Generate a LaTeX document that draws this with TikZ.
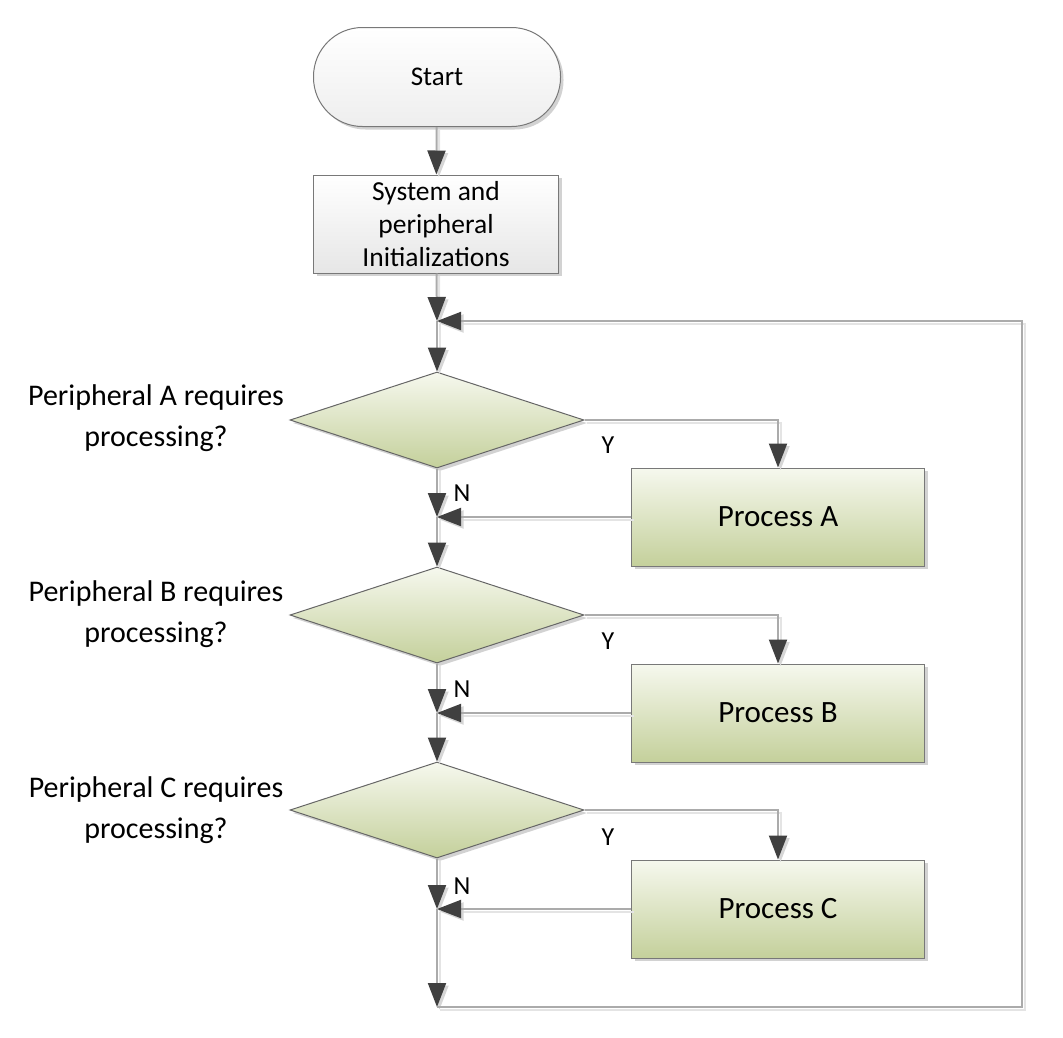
\documentclass[tikz,border=0pt]{standalone}
\usepackage{fontspec}
\setmainfont{Carlito}
\usetikzlibrary{arrows.meta,shapes.geometric,shadows}

\definecolor{linegray}{HTML}{ABABAB}
\definecolor{lineshade}{HTML}{E4E4E4}
\definecolor{tipgray}{HTML}{404040}
\definecolor{tipshade}{HTML}{D6D6D6}
\definecolor{edgegray}{HTML}{787878}
\definecolor{greentop}{HTML}{F6F8EE}
\definecolor{greenbot}{HTML}{C4D09B}
\definecolor{graybot}{HTML}{E6E6E6}
\definecolor{startbot}{HTML}{EEEEEE}

\begin{document}
\begin{tikzpicture}[x=1pt,y=-1pt,
  font=\fontsize{27}{33}\selectfont,
  boxshadow/.style={drop shadow={shadow xshift=3pt,shadow yshift=-3pt,fill=black!35,opacity=0.5}},
  terminal/.style={draw=edgegray,line width=1pt,rounded corners=49pt,
    minimum width=247pt,minimum height=99pt,top color=white,bottom color=startbot,boxshadow},
  initbox/.style={draw=edgegray,line width=1pt,minimum width=245pt,minimum height=98pt,
    align=center,top color=white,bottom color=graybot,boxshadow,
    font=\fontsize{27.5}{33}\selectfont},
  decision/.style={diamond,draw=black!60,line width=1pt,minimum width=294pt,minimum height=96pt,
    inner sep=0pt,top color=greentop,bottom color=greenbot,boxshadow},
  procbox/.style={draw=edgegray,line width=1pt,minimum width=293pt,minimum height=98pt,
    top color=greentop,bottom color=greenbot,boxshadow,font=\fontsize{31}{36}\selectfont},
  question/.style={align=center,font=\fontsize{30}{41}\selectfont},
  tag/.style={font=\fontsize{26}{30}\selectfont},
  tipA/.style={-{Triangle[length=24pt,width=18pt,color=tipgray]}},
  flow/.style={draw=linegray,line width=2pt,tipA,
    preaction={draw=lineshade,line width=2pt,
      arrows=-{Triangle[length=24pt,width=18pt,color=tipshade]},
      transform canvas={shift={(2.5pt,-2.5pt)}}}},
]
\useasboundingbox (0,0) rectangle (1063,1037);

% nodes
\node[terminal] (start) at (437,77) {Start};
\node[initbox] (init) at (436,224) {System and\\peripheral\\Initializations};

\node[decision] (dA) at (437,420) {};
\node[decision] (dB) at (437,615) {};
\node[decision] (dC) at (437,810) {};

\node[procbox] (pA) at (778,517) {Process A};
\node[procbox] (pB) at (778,713) {Process B};
\node[procbox] (pC) at (778,909) {Process C};

\node[question] (qA) at (156,418) {Peripheral A requires\\processing?};
\node[question] (qB) at (156,614) {Peripheral B requires\\processing?};
\node[question] (qC) at (156,810) {Peripheral C requires\\processing?};

\node[tag] (yA) at (608,445) {Y};
\node[tag] (yB) at (608,641) {Y};
\node[tag] (yC) at (608,837) {Y};
\node[tag] (nA) at (462,493) {N};
\node[tag] (nB) at (462,689) {N};
\node[tag] (nC) at (462,886) {N};

% junction points of the main column and the return loop
\coordinate (j0) at (437,321);
\coordinate (jA) at (437,517);
\coordinate (jB) at (437,713);
\coordinate (jC) at (437,909);
\coordinate (loopstart) at (437,1007);
\coordinate (loopbr) at (1022,1007);
\coordinate (looptr) at (1022,321);

% connectors
\draw[flow] (start) -- (init);
\draw[flow] (init) -- (j0);
\draw[flow] (j0) -- (dA.north);

\draw[flow] (dA.east) -| (pA.north);
\draw[flow] (dA.south) -- (jA);
\draw[flow] (pA.west) -- (jA);
\draw[flow] (jA) -- (dB.north);

\draw[flow] (dB.east) -| (pB.north);
\draw[flow] (dB.south) -- (jB);
\draw[flow] (pB.west) -- (jB);
\draw[flow] (jB) -- (dC.north);

\draw[flow] (dC.east) -| (pC.north);
\draw[flow] (dC.south) -- (jC);
\draw[flow] (pC.west) -- (jC);
\draw[flow] (jC) -- (loopstart);

\draw[flow] (loopstart) -- (loopbr) -- (looptr) -- (j0);
\end{tikzpicture}
\end{document}
